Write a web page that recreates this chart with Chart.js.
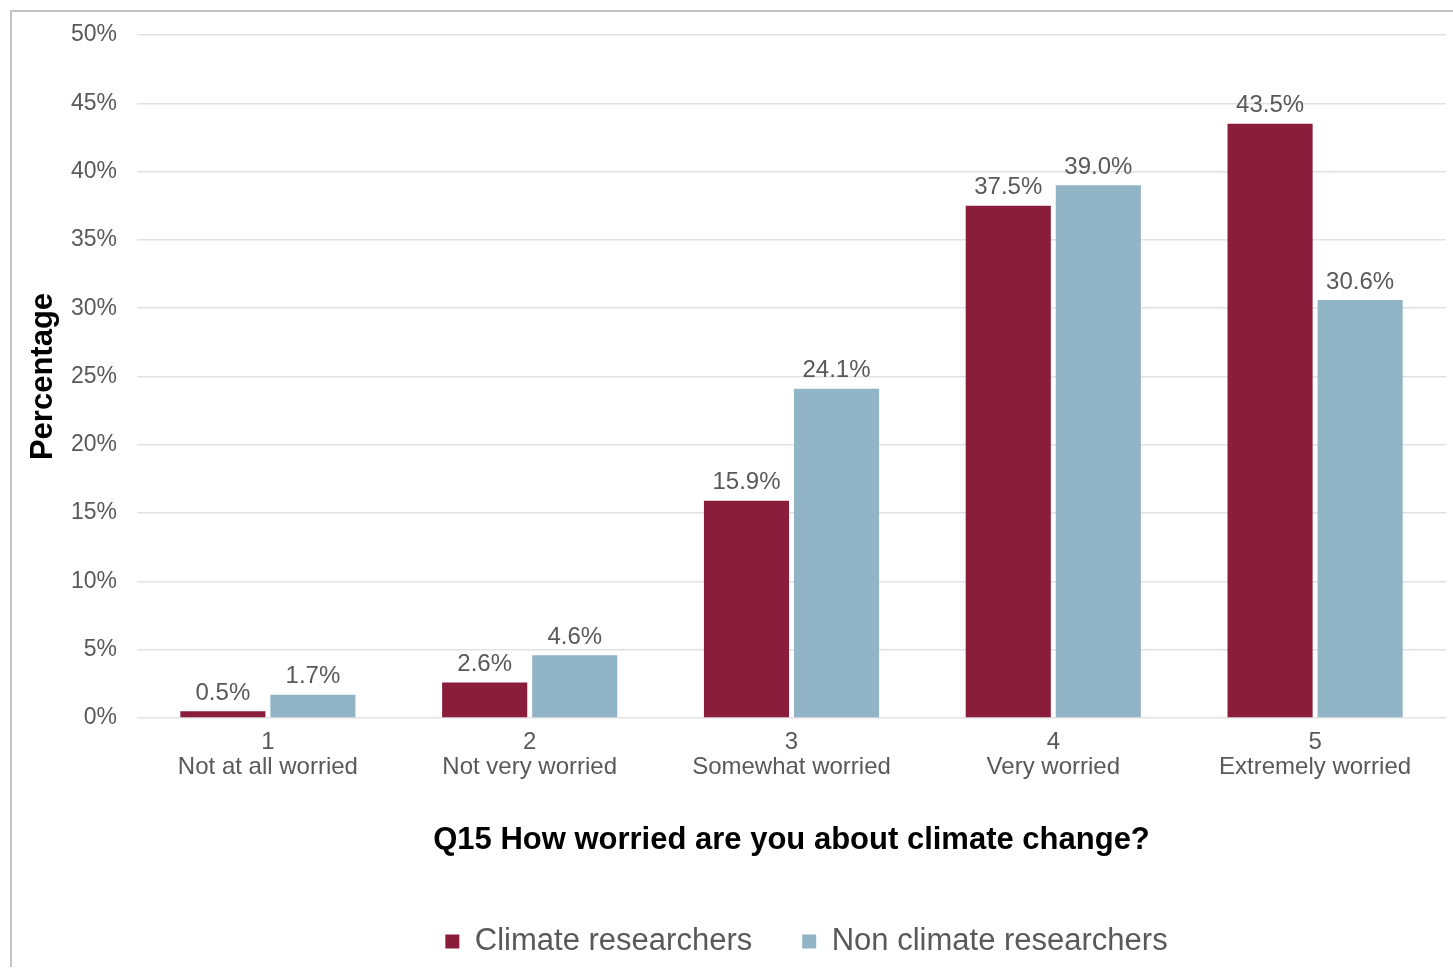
<!DOCTYPE html>
<html>
<head>
<meta charset="utf-8">
<title>Q15 How worried are you about climate change?</title>
<script src="https://cdn.jsdelivr.net/npm/chart.js@4/dist/chart.umd.min.js"></script>
<style>
  html, body { margin: 0; padding: 0; background: #fff; overflow: hidden; }
  #frame {
    position: absolute; left: 10px; top: 10px;
    width: 1441px; height: 955px;
    border-left: 2px solid #c4c4c4; border-top: 2px solid #c4c4c4;
  }
</style>
</head>
<body>
<div id="frame"><canvas id="worryChart"></canvas></div>
<script>
// answer scale for Q15
var levels = ['1', '2', '3', '4', '5'];
var levelNames = ['Not at all worried', 'Not very worried', 'Somewhat worried', 'Very worried', 'Extremely worried'];

// share of respondents (%)
var climateResearchers = [0.5, 2.6, 15.9, 37.5, 43.5];
var nonClimateResearchers = [1.7, 4.6, 24.1, 39.0, 30.6];

var yTicks = [0, 5, 10, 15, 20, 25, 30, 35, 40, 45, 50];

var FONT = '"Liberation Sans", Arial, Helvetica, sans-serif';
var GREY = '#595959';

// value printed on top of every bar
var barValues = {
    id: 'barValues',
    afterDatasetsDraw(chart) {
        var ctx = chart.ctx;
        ctx.save();
        ctx.font = '24px ' + FONT;
        ctx.fillStyle = GREY;
        ctx.textAlign = 'center';
        ctx.textBaseline = 'middle';
        chart.data.datasets.forEach((ds, i) => {
            chart.getDatasetMeta(i).data.forEach((bar, j) => {
                ctx.fillText(ds.data[j].toFixed(1) + '%', bar.x, bar.y - 18);
            });
        });
        ctx.restore();
    }
};

// legend sits a little right of the plot centre
var legendShift = {
    id: 'legendShift',
    afterLayout(chart) {
        chart.legend.left += 30;
    }
};

var ctx = document.getElementById('worryChart').getContext('2d');
var chart = new Chart(ctx, {
    type: 'bar',
    data: {
        labels: levels.map((l, i) => [l, levelNames[i]]),
        datasets: [{
            label: 'Climate researchers',
            data: climateResearchers,
            backgroundColor: '#8a1c3c'
        }, {
            label: 'Non climate researchers',
            data: nonClimateResearchers,
            backgroundColor: '#92b4c7'
        }]
    },
    options: {
        responsive: true,
        maintainAspectRatio: false,
        animation: false,
        datasets: {
            bar: { categoryPercentage: 0.688, barPercentage: 0.945 }
        },
        layout: { padding: { top: 23, left: 13, right: 7, bottom: 0 } },
        plugins: {
            legend: {
                position: 'bottom',
                fullSize: false,
                labels: {
                    boxWidth: 14,
                    boxHeight: 14,
                    padding: 50,
                    color: GREY,
                    font: { family: FONT, size: 31 }
                }
            },
            tooltip: { enabled: false }
        },
        scales: {
            x: {
                grid: { display: false },
                border: { display: false },
                ticks: {
                    color: GREY,
                    padding: 4,
                    font: { family: FONT, size: 24, lineHeight: 1.05 }
                },
                title: {
                    display: true,
                    text: 'Q15 How worried are you about climate change?',
                    color: '#000',
                    font: { family: FONT, size: 31, weight: 'bold' },
                    padding: { top: 0, bottom: 17 }
                },
                afterFit(scale) { scale.height = 158; }
            },
            y: {
                min: 0,
                max: 50,
                afterBuildTicks(scale) { scale.ticks = yTicks.map(v => ({ value: v })); },
                grid: { color: '#e2e2e2', lineWidth: 1.5, drawTicks: false },
                border: { display: false },
                ticks: {
                    color: GREY,
                    padding: 20,
                    font: { family: FONT, size: 23 },
                    callback: v => v + '%'
                },
                title: {
                    display: true,
                    text: 'Percentage',
                    color: '#000',
                    font: { family: FONT, size: 31, weight: 'bold' },
                    padding: { top: 0, bottom: 0 }
                },
                afterFit(scale) {
                    scale.width = 112;
                    scale.paddingTop = 0;
                    scale.paddingBottom = 0;
                }
            }
        }
    },
    plugins: [barValues, legendShift]
});
</script>
</body>
</html>
